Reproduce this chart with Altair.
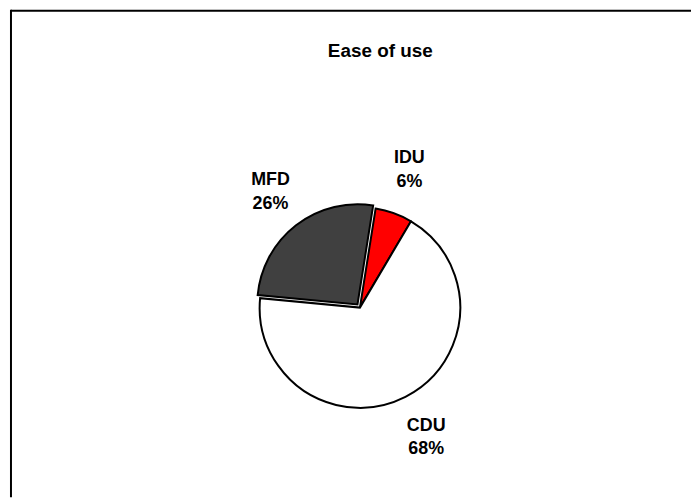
import math
import altair as alt
import pandas as pd

categories = ["IDU", "CDU", "MFD"]
values = [6, 68, 26]
colors = ["#FF0000", "#FFFFFF", "#404040"]
exploded = "MFD"

start_deg = 9.0
start = math.radians(start_deg)

df = pd.DataFrame({
    "category": categories,
    "value": values,
    "order": list(range(len(categories))),
    "label": [f"{c}\n{v}%" for c, v in zip(categories, values)],
})

W, H = 688, 491
CX, CY = 354.5, 300
R = 101
EXPLODE = 4.0
LH = 24

# mid-angle of exploded slice
total = sum(values)
cum = 0
mid = 0
for c, v in zip(categories, values):
    if c == exploded:
        mid = start + 2 * math.pi * (cum + v / 2) / total
    cum += v
EDX = EXPLODE * math.sin(mid)
EDY = -EXPLODE * math.cos(mid)

theta = alt.Theta("value:Q", stack=True,
                  scale=alt.Scale(range=[start, start + 2 * math.pi]))
color = alt.Color("category:N", scale=alt.Scale(domain=categories, range=colors), legend=None)
order = alt.Order("order:Q")

base = alt.Chart(df)

arcs = base.mark_arc(radius=R, stroke="black", strokeWidth=2).encode(
    theta=theta, color=color, order=order,
    x=alt.value(CX), y=alt.value(CY),
    opacity=alt.condition(f"datum.category == '{exploded}'", alt.value(0), alt.value(1)),
)

arc_exp = base.mark_arc(radius=R, stroke="black", strokeWidth=2).encode(
    theta=theta, color=color, order=order,
    x=alt.value(CX + EDX), y=alt.value(CY + EDY),
    opacity=alt.condition(f"datum.category == '{exploded}'", alt.value(1), alt.value(0)),
)

labels = base.mark_text(radius=147, font="Liberation Sans", fontSize=18, fontWeight="bold",
                        color="black", lineBreak="\n", lineHeight=LH, baseline="middle",
                        align="center", dy=-LH / 2).encode(
    theta=theta, order=order, text="label:N",
    x=alt.value(CX), y=alt.value(CY),
)

title = alt.Chart(alt.Data(values=[{}])).mark_text(
    text="Ease of use", font="Liberation Sans", fontSize=19, fontWeight="bold",
    color="black", baseline="middle", align="center",
).encode(x=alt.value(375), y=alt.value(42))

top_rule = alt.Chart(alt.Data(values=[{}])).mark_rule(color="black", strokeWidth=2).encode(
    x=alt.value(3), x2=alt.value(W), y=alt.value(1))
left_rule = alt.Chart(alt.Data(values=[{}])).mark_rule(color="black", strokeWidth=2).encode(
    x=alt.value(3), y=alt.value(0), y2=alt.value(H))

chart = alt.layer(top_rule, left_rule, arcs, arc_exp, labels, title).properties(
    width=W, height=H, padding=0, autosize=alt.AutoSizeParams(type="none"),
    background="white",
).configure_view(stroke=None)

chart.save("out.html", embed_options={"renderer": "svg", "actions": False})
